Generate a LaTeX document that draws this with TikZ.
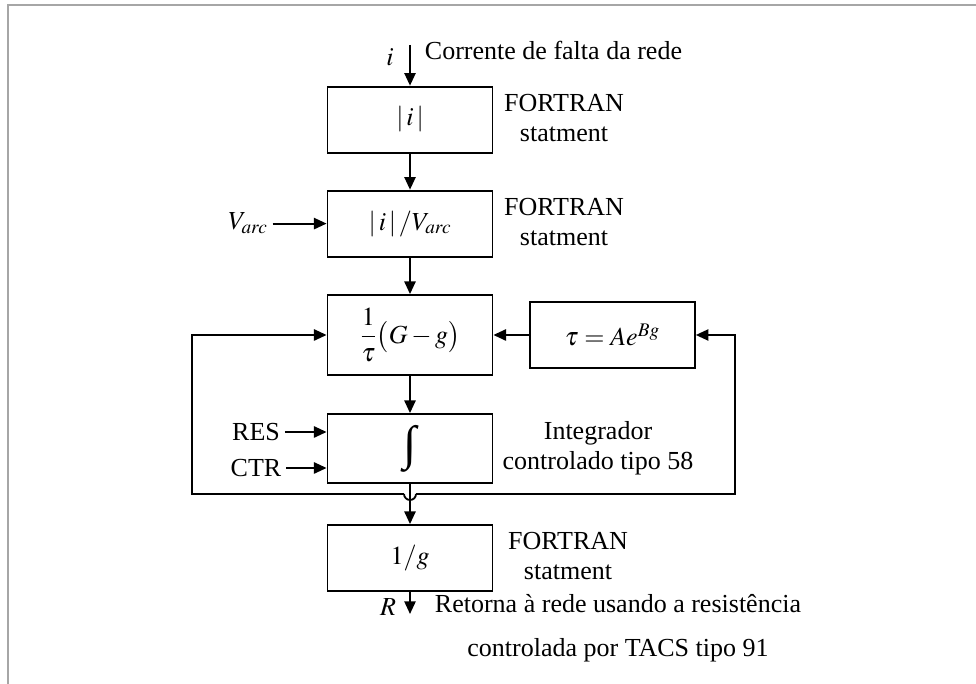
\documentclass[tikz,border=0pt]{standalone}
\usepackage{amsmath}
\usepackage{mathptmx}
\usepackage[no-math]{fontspec}
\setmainfont{Liberation Serif}
\usetikzlibrary{arrows.meta,positioning}

\begin{document}
\begin{tikzpicture}[font=\fontsize{18.5}{21}\selectfont,
    blk/.style={draw, line width=1.3pt, minimum width=4.125cm, minimum height=1.65cm},
    conn/.style={-{Triangle[length=9pt,width=8pt]}, line width=1.3pt},
    note/.style={align=center}]
  \useasboundingbox (0,0) rectangle (24.4,17.1);
  \draw[gray!70, line width=0.8pt] (0.2,0) |- (24.4,16.975);
  % main column
  \node[blk] (abs) at (10.25,14.11) {$|\,i\,|$};
  \node[blk] (div) at (10.25,11.51) {$|\,i\,|\,/V_{arc}$};
  \node[blk, minimum height=2cm] (dif) at (10.25,8.725) {$\dfrac{1}{\tau}\bigl(G-g\bigr)$};
  \node[blk] (tau) at (15.31,8.725) {$\tau = Ae^{Bg}$};
  \node[blk, minimum height=1.72cm, inner sep=0pt] (int) at (10.25,5.89) {\fontsize{34}{34}\selectfont ∫};
  \node[blk] (inv) at (10.25,3.15) {$1/g$};
  % side notes
  \node[note] (n1) at (14.1,14.15) {FORTRAN\\statment};
  \node[note] (n2) at (14.1,11.55) {FORTRAN\\statment};
  \node[note] (n3) at (14.95,5.9) {Integrador\\controlado tipo 58};
  \node[note] (n4) at (14.2,3.2) {FORTRAN\\statment};
  % inputs and output
  \coordinate (in) at (10.25,15.975);
  \node (ilab) at (9.75,15.67) {$i$};
  \node[anchor=west] (src) at (10.5,15.85) {Corrente de falta da rede};
  \node (varc) at (6.2,11.51) {$V_{arc}$};
  \node (res) at (6.4,6.3) {RES};
  \node (ctr) at (6.4,5.4) {CTR};
  \coordinate (out) at (10.25,1.75);
  \node (rlab) at (9.7,1.925) {$R$};
  \node[note] (dst) at (15.45,1.4) {Retorna à rede usando a resistência\\[10pt]controlada por TACS tipo 91};
  \draw[conn] (in) -- (abs);
  \draw[conn] (abs) -- (div);
  \draw[conn] (varc) -- (div);
  \draw[conn] (div) -- (dif);
  \draw[conn] (tau) -- (dif);
  \draw[conn] (dif) -- (int);
  \draw[conn] (res) -- (int.west |- res);
  \draw[conn] (ctr) -- (int.west |- ctr);
  \draw[conn] (int) -- (inv);
  \draw[conn] (inv) -- (out);
  % feedback of g, hopping over the main line
  \coordinate (jl) at (10.1,4.75);
  \coordinate (jr) at (10.4,4.75);
  \coordinate (lft) at (4.8,4.75);
  \coordinate (rgt) at (18.375,4.75);
  \draw[line width=1.3pt] (jl) arc[start angle=180, end angle=360, radius=0.15];
  \draw[conn] (jl) -- (lft) |- (dif.west);
  \draw[conn] (jr) -- (rgt) |- (tau.east);
\end{tikzpicture}
\end{document}
